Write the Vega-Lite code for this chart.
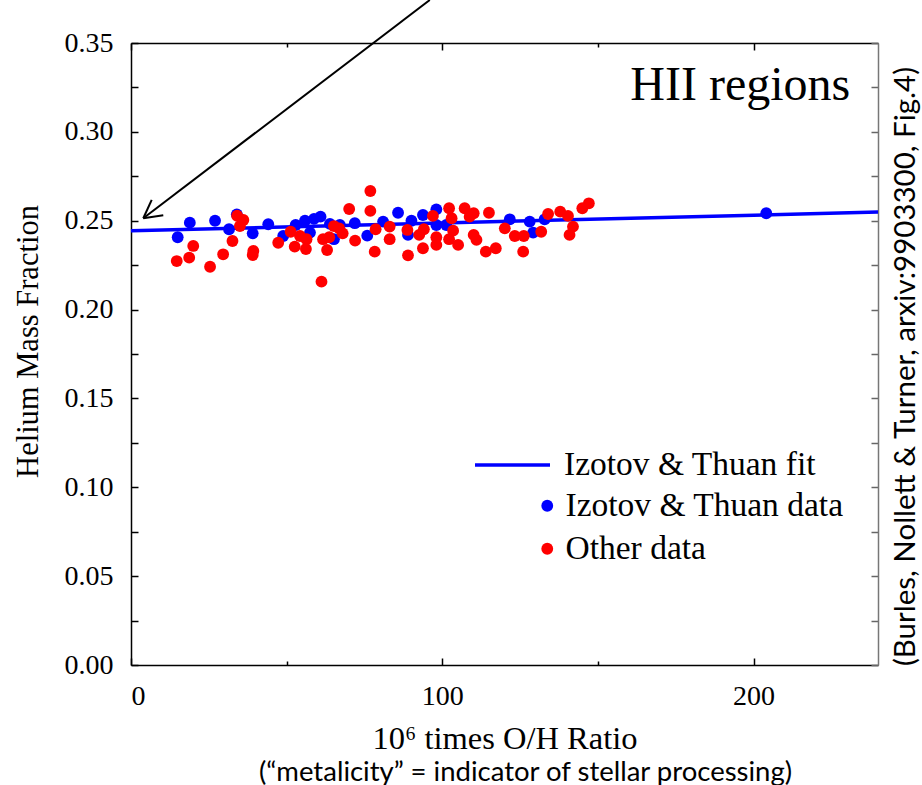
{
  "$schema": "https://vega.github.io/schema/vega-lite/v6.json",
  "width": 747,
  "height": 622,
  "autosize": {"type": "none"},
  "padding": {"left": 131, "top": 43, "right": 44, "bottom": 120},
  "background": "white",
  "config": {"view": {"stroke": null}, "font": "Liberation Serif"},
  "title": {"text": "(“metalicity” = indicator of stellar processing)", "orient": "bottom", "font": "Lato", "fontSize": 27.5, "fontWeight": "normal", "color": "black", "anchor": "middle", "offset": 4, "dx": 21},
  "datasets": {
    "fit": [{"oh": 0, "y": 0.2443}, {"oh": 240, "y": 0.2549}],
    "label": [{"text": "HII regions"}],
    "points": [
      {"oh": 15.0, "y": 0.2407, "group": "Izotov & Thuan data"},
      {"oh": 18.9, "y": 0.2489, "group": "Izotov & Thuan data"},
      {"oh": 27.0, "y": 0.2500, "group": "Izotov & Thuan data"},
      {"oh": 31.5, "y": 0.2452, "group": "Izotov & Thuan data"},
      {"oh": 34.0, "y": 0.2536, "group": "Izotov & Thuan data"},
      {"oh": 39.1, "y": 0.2429, "group": "Izotov & Thuan data"},
      {"oh": 44.1, "y": 0.2480, "group": "Izotov & Thuan data"},
      {"oh": 48.9, "y": 0.2414, "group": "Izotov & Thuan data"},
      {"oh": 52.9, "y": 0.2476, "group": "Izotov & Thuan data"},
      {"oh": 55.9, "y": 0.2500, "group": "Izotov & Thuan data"},
      {"oh": 58.8, "y": 0.2510, "group": "Izotov & Thuan data"},
      {"oh": 60.9, "y": 0.2523, "group": "Izotov & Thuan data"},
      {"oh": 57.5, "y": 0.2433, "group": "Izotov & Thuan data"},
      {"oh": 63.9, "y": 0.2482, "group": "Izotov & Thuan data"},
      {"oh": 65.2, "y": 0.2396, "group": "Izotov & Thuan data"},
      {"oh": 67.1, "y": 0.2476, "group": "Izotov & Thuan data"},
      {"oh": 71.9, "y": 0.2486, "group": "Izotov & Thuan data"},
      {"oh": 75.9, "y": 0.2416, "group": "Izotov & Thuan data"},
      {"oh": 81.0, "y": 0.2495, "group": "Izotov & Thuan data"},
      {"oh": 85.8, "y": 0.2545, "group": "Izotov & Thuan data"},
      {"oh": 90.1, "y": 0.2500, "group": "Izotov & Thuan data"},
      {"oh": 89.0, "y": 0.2420, "group": "Izotov & Thuan data"},
      {"oh": 93.8, "y": 0.2532, "group": "Izotov & Thuan data"},
      {"oh": 98.1, "y": 0.2564, "group": "Izotov & Thuan data"},
      {"oh": 98.1, "y": 0.2476, "group": "Izotov & Thuan data"},
      {"oh": 101.3, "y": 0.2476, "group": "Izotov & Thuan data"},
      {"oh": 121.7, "y": 0.2508, "group": "Izotov & Thuan data"},
      {"oh": 128.1, "y": 0.2495, "group": "Izotov & Thuan data"},
      {"oh": 129.2, "y": 0.2433, "group": "Izotov & Thuan data"},
      {"oh": 132.9, "y": 0.2508, "group": "Izotov & Thuan data"},
      {"oh": 204.1, "y": 0.2542, "group": "Izotov & Thuan data"},
      {"oh": 14.7, "y": 0.2273, "group": "Other data"},
      {"oh": 18.7, "y": 0.2292, "group": "Other data"},
      {"oh": 20.0, "y": 0.2358, "group": "Other data"},
      {"oh": 25.4, "y": 0.2241, "group": "Other data"},
      {"oh": 29.6, "y": 0.2311, "group": "Other data"},
      {"oh": 32.6, "y": 0.2386, "group": "Other data"},
      {"oh": 34.1, "y": 0.2528, "group": "Other data"},
      {"oh": 36.1, "y": 0.2504, "group": "Other data"},
      {"oh": 35.0, "y": 0.2470, "group": "Other data"},
      {"oh": 39.3, "y": 0.2330, "group": "Other data"},
      {"oh": 39.1, "y": 0.2307, "group": "Other data"},
      {"oh": 47.3, "y": 0.2376, "group": "Other data"},
      {"oh": 51.3, "y": 0.2438, "group": "Other data"},
      {"oh": 52.6, "y": 0.2354, "group": "Other data"},
      {"oh": 54.3, "y": 0.2414, "group": "Other data"},
      {"oh": 56.4, "y": 0.2396, "group": "Other data"},
      {"oh": 56.2, "y": 0.2341, "group": "Other data"},
      {"oh": 61.2, "y": 0.2157, "group": "Other data"},
      {"oh": 61.7, "y": 0.2396, "group": "Other data"},
      {"oh": 63.0, "y": 0.2335, "group": "Other data"},
      {"oh": 63.7, "y": 0.2407, "group": "Other data"},
      {"oh": 65.2, "y": 0.2470, "group": "Other data"},
      {"oh": 66.9, "y": 0.2457, "group": "Other data"},
      {"oh": 68.0, "y": 0.2429, "group": "Other data"},
      {"oh": 70.1, "y": 0.2566, "group": "Other data"},
      {"oh": 72.0, "y": 0.2388, "group": "Other data"},
      {"oh": 76.9, "y": 0.2667, "group": "Other data"},
      {"oh": 76.9, "y": 0.2555, "group": "Other data"},
      {"oh": 78.6, "y": 0.2452, "group": "Other data"},
      {"oh": 78.3, "y": 0.2326, "group": "Other data"},
      {"oh": 83.1, "y": 0.2467, "group": "Other data"},
      {"oh": 83.1, "y": 0.2396, "group": "Other data"},
      {"oh": 88.8, "y": 0.2448, "group": "Other data"},
      {"oh": 89.0, "y": 0.2305, "group": "Other data"},
      {"oh": 92.6, "y": 0.2420, "group": "Other data"},
      {"oh": 94.1, "y": 0.2452, "group": "Other data"},
      {"oh": 93.8, "y": 0.2345, "group": "Other data"},
      {"oh": 97.0, "y": 0.2527, "group": "Other data"},
      {"oh": 98.1, "y": 0.2407, "group": "Other data"},
      {"oh": 98.1, "y": 0.2364, "group": "Other data"},
      {"oh": 102.2, "y": 0.2570, "group": "Other data"},
      {"oh": 103.0, "y": 0.2514, "group": "Other data"},
      {"oh": 103.5, "y": 0.2444, "group": "Other data"},
      {"oh": 102.2, "y": 0.2396, "group": "Other data"},
      {"oh": 105.1, "y": 0.2364, "group": "Other data"},
      {"oh": 107.2, "y": 0.2570, "group": "Other data"},
      {"oh": 108.8, "y": 0.2523, "group": "Other data"},
      {"oh": 110.1, "y": 0.2542, "group": "Other data"},
      {"oh": 110.1, "y": 0.2420, "group": "Other data"},
      {"oh": 111.0, "y": 0.2392, "group": "Other data"},
      {"oh": 114.0, "y": 0.2326, "group": "Other data"},
      {"oh": 115.0, "y": 0.2545, "group": "Other data"},
      {"oh": 117.2, "y": 0.2345, "group": "Other data"},
      {"oh": 120.1, "y": 0.2457, "group": "Other data"},
      {"oh": 123.3, "y": 0.2414, "group": "Other data"},
      {"oh": 126.2, "y": 0.2414, "group": "Other data"},
      {"oh": 126.0, "y": 0.2326, "group": "Other data"},
      {"oh": 131.8, "y": 0.2438, "group": "Other data"},
      {"oh": 134.0, "y": 0.2538, "group": "Other data"},
      {"oh": 137.9, "y": 0.2551, "group": "Other data"},
      {"oh": 140.4, "y": 0.2527, "group": "Other data"},
      {"oh": 142.0, "y": 0.2467, "group": "Other data"},
      {"oh": 140.9, "y": 0.2420, "group": "Other data"},
      {"oh": 145.0, "y": 0.2570, "group": "Other data"},
      {"oh": 147.1, "y": 0.2598, "group": "Other data"}
    ],
    "arrow": [
      {"x1": 96.0, "y1": 0.3742, "x2": 3.95, "y2": 0.2514},
      {"x1": 6.65, "y1": 0.2617, "x2": 3.95, "y2": 0.2514},
      {"x1": 10.37, "y1": 0.2531, "x2": 3.95, "y2": 0.2514}
    ]
  },
  "layer": [
    {
      "data": {"name": "fit"},
      "mark": {"type": "line", "strokeWidth": 3.5},
      "encoding": {
        "x": {
          "field": "oh", "type": "quantitative",
          "scale": {"domain": [0, 240], "nice": false, "zero": false},
          "axis": {
            "orient": "bottom", "values": [0, 50, 100, 150, 200],
            "labelExpr": "datum.value % 100 === 0 ? datum.label : ''",
            "tickSize": {"condition": {"test": "datum.value % 100 === 0", "value": -7}, "value": -4},
            "tickColor": "black", "tickWidth": 1.5, "domainColor": "black", "domainWidth": 1.5,
            "labelFont": "Liberation Serif", "labelFontSize": 28, "labelColor": "black", "labelPadding": 24,
            "title": "10⁶ times O/H Ratio", "titleFont": "Liberation Serif", "titleFontSize": 32.5,
            "titleFontWeight": "normal", "titleColor": "black", "titlePadding": 12, "grid": false
          }
        },
        "y": {
          "field": "y", "type": "quantitative",
          "scale": {"domain": [0, 0.35], "nice": false, "zero": false},
          "axis": {
            "orient": "left",
            "values": [0, 0.025, 0.05, 0.075, 0.1, 0.125, 0.15, 0.175, 0.2, 0.225, 0.25, 0.275, 0.3, 0.325, 0.35],
            "labelExpr": "abs(datum.value*20 - round(datum.value*20)) < 0.01 ? format(datum.value, '.2f') : ''",
            "tickSize": -7, "tickColor": "black", "tickWidth": 1.5, "domainColor": "black", "domainWidth": 1.5,
            "labelFont": "Liberation Serif", "labelFontSize": 28, "labelColor": "black", "labelPadding": 25,
            "title": "Helium Mass Fraction", "titleFont": "Liberation Serif", "titleFontSize": 30.5,
            "titleFontWeight": "normal", "titleColor": "black", "titlePadding": 21, "titleY": 298, "grid": false
          }
        },
        "stroke": {
          "datum": "Izotov & Thuan fit", "type": "nominal",
          "scale": {"range": ["#0000ff"]},
          "legend": {
            "orient": "none", "legendX": 342, "legendY": 382.5, "title": null, "padding": 0,
            "symbolType": "stroke", "symbolSize": 5625, "symbolStrokeWidth": 3.5,
            "labelFont": "Liberation Serif", "labelFontSize": 33.5, "labelColor": "black", "labelOffset": 12, "labelLimit": 400
          }
        }
      }
    },
    {
      "data": {"name": "points"},
      "mark": {"type": "point", "filled": true, "size": 140, "opacity": 1, "strokeWidth": 0},
      "encoding": {
        "x": {
          "field": "oh", "type": "quantitative",
          "axis": {
            "orient": "top", "values": [0, 50, 100, 150, 200], "labels": false, "title": null,
            "tickSize": {"condition": {"test": "datum.value % 100 === 0", "value": -7}, "value": -4},
            "tickColor": "black", "tickWidth": 1.5, "domainColor": "black", "domainWidth": 1.5, "grid": false
          }
        },
        "y": {
          "field": "y", "type": "quantitative",
          "axis": {
            "orient": "right",
            "values": [0, 0.025, 0.05, 0.075, 0.1, 0.125, 0.15, 0.175, 0.2, 0.225, 0.25, 0.275, 0.3, 0.325, 0.35],
            "labels": false, "tickSize": -7, "tickColor": "#666666", "tickWidth": 1.5,
            "domainColor": "#777777", "domainWidth": 1.5, "grid": false,
            "title": "(Burles, Nollett & Turner, arxiv:9903300, Fig.4)",
            "titleFont": "Lato", "titleFontSize": 29.5, "titleFontWeight": "normal", "titleColor": "black",
            "titleAngle": 270, "titleX": 27, "titleY": 323, "titleAlign": "center", "titleBaseline": "middle"
          }
        },
        "fill": {
          "field": "group", "type": "nominal",
          "scale": {"domain": ["Izotov & Thuan data", "Other data"], "range": ["#0000ff", "#ff0000"]},
          "legend": {
            "orient": "none", "legendX": 399.5, "legendY": 446, "title": null, "padding": 0,
            "symbolType": "circle", "symbolSize": 140, "symbolStrokeWidth": 0, "rowPadding": 8,
            "labelFont": "Liberation Serif", "labelFontSize": 33.5, "labelColor": "black", "labelOffset": 1.5, "labelLimit": 400
          }
        }
      }
    },
    {
      "data": {"name": "arrow"},
      "mark": {"type": "rule", "color": "black", "strokeWidth": 2},
      "encoding": {
        "x": {"field": "x1", "type": "quantitative", "axis": null},
        "y": {"field": "y1", "type": "quantitative", "axis": null},
        "x2": {"field": "x2"},
        "y2": {"field": "y2"}
      }
    },
    {
      "data": {"name": "label"},
      "mark": {"type": "text", "font": "Liberation Serif", "fontSize": 48, "align": "right", "baseline": "alphabetic", "color": "black"},
      "encoding": {
        "x": {"datum": 231.1, "type": "quantitative", "axis": null},
        "y": {"datum": 0.318, "type": "quantitative", "axis": null},
        "text": {"field": "text", "type": "nominal"}
      }
    }
  ],
  "resolve": {"axis": {"x": "independent", "y": "independent"}}
}
